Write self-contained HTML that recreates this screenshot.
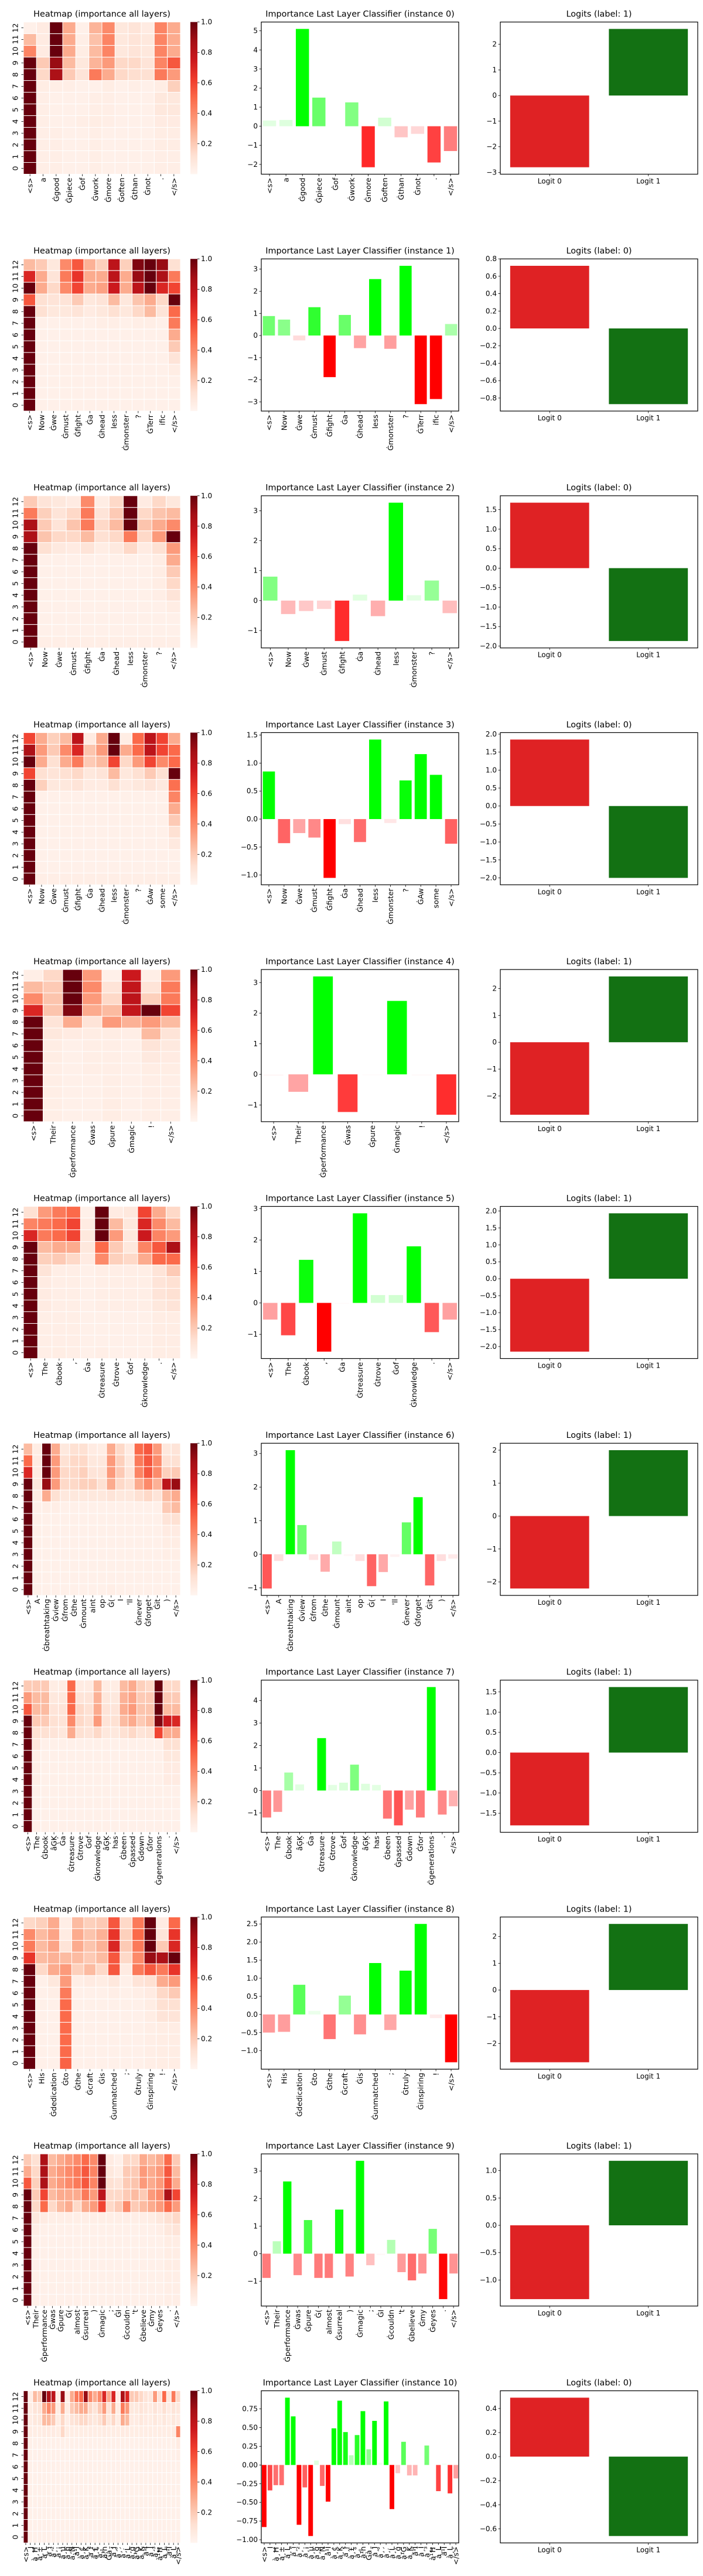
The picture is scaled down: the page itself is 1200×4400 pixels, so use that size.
<!DOCTYPE html>
<html><head><meta charset="utf-8">
<style>
html,body{margin:0;padding:0;background:#fff;}
svg{display:block;}
text{font-family:"DejaVu Sans","Liberation Sans",sans-serif;fill:#000;}
</style></head>
<body>
<svg id="fig" width="1200" height="4400" viewBox="0 0 1200 4400" xmlns="http://www.w3.org/2000/svg"></svg>
<script>
// ---------------- DATA ----------------
const t0=["<s>","a","Ġgood","Ġpiece","Ġof","Ġwork","Ġmore","Ġoften","Ġthan","Ġnot",".","</s>"];
const t1=["<s>","Now","Ġwe","Ġmust","Ġfight","Ġa","Ġhead","less","Ġmonster","?","ĠTerr","ific","</s>"];
const t2=["<s>","Now","Ġwe","Ġmust","Ġfight","Ġa","Ġhead","less","Ġmonster","?","</s>"];
const t3=["<s>","Now","Ġwe","Ġmust","Ġfight","Ġa","Ġhead","less","Ġmonster","?","ĠAw","some","</s>"];
const t4=["<s>","Their","Ġperformance","Ġwas","Ġpure","Ġmagic","!","</s>"];
const t5=["<s>","The","Ġbook",",","Ġa","Ġtreasure","Ġtrove","Ġof","Ġknowledge",".","</s>"];
const t6=["<s>","A","Ġbreathtaking","Ġview","Ġfrom","Ġthe","Ġmount","aint","op","Ġ(","I","'ll","Ġnever","Ġforget","Ġit",")","</s>"];
const t7=["<s>","The","Ġbook","âĢĶ","Ġa","Ġtreasure","Ġtrove","Ġof","Ġknowledge","âĢĶ","has","Ġbeen","Ġpassed","Ġdown","Ġfor","Ġgenerations",".","</s>"];
const t8=["<s>","His","Ġdedication","Ġto","Ġthe","Ġcraft","Ġis","Ġunmatched",";","Ġtruly","Ġinspiring","!","</s>"];
const t9=["<s>","Their","Ġperformance","Ġwas","Ġpure","Ġ(","almost","Ġsurreal",")","Ġmagic",";","ĠI","Ġcouldn","'t","Ġbelieve","Ġmy","Ġeyes",".","</s>"];
const t10=["<s>","I","à¸Ħ","à¸±","à¸Ļ","à¸ĩ","à¸²","à¸¡","à¸µ","à¸ģ","à¸Ń","à¹Ī","à¸¢","à¸Ķ","à¸ŀ","à¸£","à¸°","à¹ĥ","Ġà¸","à¸Ī","à¸°","à¸´","à¸Ĺ","à¸ģ","à¹Ģ","à¸Ķ","à¹Ĩ","à¸Ī","à¸³","à¹Ħ","à¸Ĺ","à¹Ī","à¸Ļ","</s>"];

const b0=[0.3,0.33,5.1,1.5,0,1.25,-2.15,0.45,-0.58,-0.4,-1.9,-1.3];
const b1=[0.88,0.72,-0.22,1.28,-1.88,0.93,-0.57,2.55,-0.6,3.15,-3.1,-2.87,0.52];
const b2=[0.8,-0.45,-0.35,-0.28,-1.35,0.2,-0.52,3.27,0.18,0.67,-0.42];
const b3=[0.85,-0.43,-0.25,-0.33,-1.05,-0.09,-0.41,1.42,-0.07,0.69,1.16,0.79,-0.44];
const b4=[-0.05,-0.57,3.2,-1.23,-0.03,2.4,-0.04,-1.32];
const b5=[-0.53,-1.03,1.37,-1.55,-0.03,2.85,0.25,0.25,1.8,-0.93,-0.53];
const b6=[-1.02,-0.2,3.1,0.87,-0.17,-0.52,0.38,-0.05,-0.2,-0.95,-0.53,-0.08,0.95,1.7,-0.93,-0.2,-0.13];
const b7=[-1.2,-0.95,0.8,0.27,0.02,2.33,0.25,0.35,1.15,0.3,0.25,-1.25,-1.55,-0.85,-1.2,4.6,-1.07,-0.7];
const b8=[-0.5,-0.48,0.82,0.1,-0.68,0.52,-0.55,1.42,-0.43,1.21,2.5,-0.1,-1.32];
const b9=[-0.88,0.45,2.62,-0.78,1.22,-0.88,-0.88,1.6,-0.83,3.37,-0.42,-0.05,0.5,-0.67,-0.97,-0.72,0.9,-1.65,-0.72];
const b10=[-0.83,-0.34,-0.27,-0.27,0.9,0.65,-0.8,-0.3,-0.95,0.06,-0.28,-0.49,0.49,0.86,0.44,0.13,0.4,0.72,0.21,0.59,0.03,0.85,-0.59,-0.11,0.31,-0.14,-0.14,0.0,0.26,0.0,-0.35,0.02,-0.38,-0.18];

const g0=[-2.8,2.6], g1=[0.72,-0.87], g2=[1.68,-1.87], g3=[1.85,-2.0], g4=[-2.7,2.45], g5=[-2.15,1.93];
const g6=[-2.2,2.0], g7=[-1.8,1.62], g8=[-2.7,2.47], g9=[-1.35,1.18], g10=[0.49,-0.66];
const logitLabels=["Logit 0","Logit 1"];
const labelVals=[1,0,0,0,1,1,1,1,1,1,0];

const bt0=["−2","−1","0","1","2","3","4","5"];
const bt1=["−3","−2","−1","0","1","2","3"];
const bt2=["−1","0","1","2","3"];
const bt3=["−1.0","−0.5","0.0","0.5","1.0","1.5"];
const bt4=["−1","0","1","2","3"];
const bt5=["−1","0","1","2","3"];
const bt6=["−1","0","1","2","3"];
const bt7=["−1","0","1","2","3","4"];
const bt8=["−1.0","−0.5","0.0","0.5","1.0","1.5","2.0","2.5"];
const bt9=["−1","0","1","2","3"];
const bt10=["−1.00","−0.75","−0.50","−0.25","0.00","0.25","0.50","0.75"];

const lt0=["−3","−2","−1","0","1","2"];
const lt1=["−0.8","−0.6","−0.4","−0.2","0.0","0.2","0.4","0.6","0.8"];
const lt2=["−2.0","−1.5","−1.0","−0.5","0.0","0.5","1.0","1.5"];
const lt3=["−2.0","−1.5","−1.0","−0.5","0.0","0.5","1.0","1.5","2.0"];
const lt4=["−2","−1","0","1","2"];
const lt5=["−2.0","−1.5","−1.0","−0.5","0.0","0.5","1.0","1.5","2.0"];
const lt6=["−2","−1","0","1","2"];
const lt7=["−1.5","−1.0","−0.5","0.0","0.5","1.0","1.5"];
const lt8=["−2","−1","0","1","2"];
const lt9=["−1.0","−0.5","0.0","0.5","1.0"];
const lt10=["−0.6","−0.4","−0.2","0.0","0.2","0.4"];

const cbTicks=["0.2","0.4","0.6","0.8","1.0"];
const layerLabels=["12","11","10","9","8","7","6","5","4","3","2","1","0"];

// heatmaps: rows from layer 12 (top) down to layer 0 (bottom)
const h0=[
[.03,.06,1,.3,.03,.27,.4,.08,.1,.06,.42,.3],
[.25,.06,1,.3,.04,.23,.42,.08,.1,.08,.42,.3],
[.42,.06,1,.3,.05,.25,.42,.08,.1,.08,.42,.3],
[1,.2,.9,.25,.08,.27,.35,.15,.15,.1,.42,.55],
[1,.15,.85,.2,.1,.45,.3,.15,.13,.12,.45,.35],
[1,.05,.04,.04,.03,.03,.05,.03,.04,.03,.05,.18],
[1,.04,.03,.03,.03,.04,.04,.03,.03,.03,.08,.08],
[1,.04,.03,.03,.03,.04,.04,.03,.03,.03,.08,.08],
[1,.04,.03,.03,.04,.05,.04,.03,.03,.03,.06,.06],
[1,.04,.04,.03,.03,.04,.03,.03,.03,.03,.05,.05],
[1,.04,.04,.03,.03,.04,.03,.03,.03,.03,.05,.05],
[1,.04,.04,.03,.03,.04,.03,.03,.03,.03,.04,.04],
[1,.04,.04,.03,.03,.04,.03,.03,.03,.03,.04,.04]];
const h1=[
[.25,.2,.08,.4,.55,.28,.18,.8,.18,.95,1,.9,.12],
[.7,.3,.1,.45,.65,.3,.3,.8,.3,.9,1,.85,.45],
[1,.3,.15,.4,.6,.3,.33,.75,.3,.8,1,.7,.6],
[.55,.12,.1,.1,.2,.08,.1,.25,.08,.22,.3,.15,1],
[1,.12,.08,.08,.1,.06,.08,.12,.08,.15,.25,.1,.5],
[1,.03,.03,.03,.03,.03,.04,.04,.03,.04,.04,.03,.45],
[1,.03,.03,.03,.03,.03,.03,.03,.03,.03,.03,.03,.3],
[1,.03,.03,.03,.03,.03,.03,.03,.03,.03,.03,.03,.2],
[1,.03,.03,.03,.03,.03,.03,.03,.03,.03,.03,.03,.1],
[1,.03,.03,.03,.03,.03,.03,.03,.03,.03,.03,.03,.05],
[1,.03,.03,.03,.03,.03,.03,.03,.03,.03,.03,.03,.03],
[1,.03,.03,.03,.03,.03,.03,.03,.03,.03,.03,.03,.03],
[1,.03,.03,.03,.03,.03,.03,.03,.03,.03,.03,.03,.03]];
const h2=[
[.2,.1,.08,.06,.4,.05,.15,1,.06,.15,.08],
[.45,.18,.1,.15,.45,.1,.2,1,.15,.22,.25],
[.85,.2,.1,.22,.45,.15,.25,1,.22,.3,.4],
[.85,.22,.15,.15,.25,.12,.15,.45,.15,.35,1],
[1,.12,.07,.06,.1,.05,.07,.15,.06,.12,.35],
[1,.03,.03,.03,.03,.03,.03,.03,.03,.05,.3],
[1,.03,.03,.03,.03,.03,.03,.03,.03,.05,.2],
[1,.03,.03,.03,.03,.03,.03,.03,.03,.05,.15],
[1,.03,.03,.03,.03,.03,.03,.03,.03,.04,.1],
[1,.03,.03,.03,.03,.03,.03,.03,.03,.03,.05],
[1,.03,.03,.03,.03,.03,.03,.03,.03,.03,.03],
[1,.03,.03,.03,.03,.03,.03,.03,.03,.03,.03],
[1,.04,.04,.04,.04,.04,.04,.04,.04,.04,.04]];
const h3=[
[.6,.3,.18,.25,.8,.06,.3,1,.05,.5,.8,.6,.3],
[.85,.35,.2,.4,.7,.22,.35,1,.3,.5,.8,.6,.5],
[1,.3,.12,.3,.45,.2,.25,.6,.15,.35,.6,.4,.5],
[.6,.12,.1,.12,.15,.08,.1,.25,.08,.12,.2,.12,1],
[1,.18,.08,.08,.1,.06,.06,.12,.06,.08,.1,.07,.48],
[1,.03,.03,.03,.03,.03,.03,.03,.03,.03,.03,.03,.42],
[1,.03,.03,.03,.03,.03,.03,.03,.03,.03,.03,.03,.3],
[1,.03,.03,.03,.03,.03,.03,.03,.03,.03,.03,.03,.2],
[1,.03,.03,.03,.03,.03,.03,.03,.03,.03,.03,.03,.12],
[1,.03,.03,.03,.03,.03,.03,.03,.03,.03,.03,.03,.07],
[1,.03,.03,.03,.03,.03,.03,.03,.03,.03,.03,.03,.03],
[1,.03,.03,.03,.03,.03,.03,.03,.03,.03,.03,.03,.03],
[1,.04,.04,.04,.04,.04,.04,.04,.04,.04,.04,.04,.04]];
const h4=[
[.04,.15,1,.35,.03,.75,.04,.35],
[.25,.2,1,.4,.1,.78,.1,.45],
[.4,.22,1,.35,.15,.8,.18,.45],
[.7,.22,.95,.3,.25,.78,1,.6],
[1,.1,.3,.1,.35,.28,.35,.25],
[1,.08,.06,.05,.05,.04,.25,.1],
[1,.05,.03,.04,.04,.03,.1,.07],
[1,.05,.03,.04,.04,.03,.07,.06],
[1,.04,.03,.04,.04,.03,.05,.05],
[1,.04,.03,.03,.04,.03,.04,.04],
[1,.04,.03,.03,.04,.03,.04,.04],
[1,.04,.03,.03,.05,.03,.04,.04],
[1,.04,.03,.03,.05,.03,.04,.04]];
const h5=[
[.12,.35,.45,.5,.03,1,.06,.08,.6,.3,.15],
[.42,.45,.5,.6,.06,1,.25,.08,.7,.4,.25],
[.7,.45,.5,.6,.08,1,.35,.08,.75,.42,.35],
[1,.25,.3,.3,.08,.5,.2,.08,.42,.55,.85],
[1,.18,.2,.15,.06,.4,.18,.15,.3,.5,.5],
[1,.1,.04,.04,.03,.04,.04,.04,.04,.1,.2],
[1,.06,.04,.04,.03,.04,.04,.04,.04,.1,.12],
[1,.06,.04,.04,.03,.04,.04,.04,.04,.1,.12],
[1,.06,.04,.04,.03,.04,.04,.04,.04,.08,.1],
[1,.04,.04,.04,.03,.03,.03,.03,.03,.05,.05],
[1,.04,.04,.04,.03,.03,.03,.03,.03,.05,.05],
[1,.04,.04,.04,.03,.03,.03,.03,.03,.05,.05],
[1,.04,.05,.04,.03,.04,.03,.03,.03,.05,.05]];
const h6=[
[.25,.05,1,.3,.08,.12,.12,.06,.05,.3,.15,.06,.5,.55,.35,.08,.1],
[.5,.06,1,.35,.12,.15,.15,.08,.08,.35,.18,.08,.45,.55,.4,.12,.12],
[.7,.06,1,.35,.15,.15,.18,.1,.1,.35,.2,.1,.42,.55,.4,.18,.2],
[1,.08,.9,.35,.15,.15,.18,.18,.12,.3,.15,.12,.3,.4,.28,.8,.9],
[1,.05,.3,.12,.08,.08,.08,.08,.08,.1,.08,.08,.12,.15,.1,.25,.3],
[1,.03,.04,.04,.03,.03,.03,.03,.03,.03,.03,.03,.03,.03,.03,.2,.25],
[1,.03,.03,.03,.03,.03,.03,.03,.03,.03,.03,.03,.03,.03,.03,.1,.12],
[1,.03,.03,.03,.03,.03,.03,.03,.03,.03,.03,.03,.03,.03,.03,.06,.06],
[1,.03,.03,.03,.03,.03,.03,.03,.03,.03,.03,.03,.03,.03,.03,.05,.05],
[1,.03,.03,.03,.03,.03,.03,.03,.03,.03,.03,.03,.03,.03,.03,.04,.04],
[1,.03,.03,.03,.03,.03,.03,.03,.03,.03,.03,.03,.03,.03,.03,.03,.03],
[1,.03,.03,.03,.03,.03,.03,.03,.03,.03,.03,.03,.03,.03,.03,.03,.03],
[1,.03,.03,.03,.03,.03,.03,.03,.03,.04,.03,.03,.03,.03,.03,.03,.03]];
const h7=[
[.2,.2,.2,.05,.05,.5,.06,.06,.25,.05,.05,.25,.3,.18,.15,1,.15,.15],
[.35,.25,.25,.08,.08,.5,.1,.1,.28,.08,.08,.28,.32,.2,.2,1,.2,.2],
[.55,.25,.25,.1,.1,.5,.15,.12,.3,.1,.1,.3,.35,.22,.22,1,.25,.25],
[1,.2,.2,.12,.1,.4,.15,.12,.35,.1,.12,.25,.3,.2,.25,.95,.75,.7],
[1,.12,.12,.1,.08,.3,.12,.1,.15,.08,.08,.12,.15,.1,.12,.6,.3,.3],
[1,.08,.03,.03,.03,.03,.03,.03,.03,.03,.03,.03,.03,.03,.03,.03,.12,.12],
[1,.04,.03,.03,.03,.03,.03,.03,.03,.03,.03,.03,.03,.03,.03,.03,.08,.08],
[1,.04,.03,.03,.03,.03,.03,.03,.03,.03,.03,.03,.03,.03,.03,.03,.06,.06],
[1,.04,.03,.03,.03,.03,.03,.03,.03,.03,.03,.03,.03,.03,.03,.03,.06,.06],
[1,.03,.03,.03,.03,.03,.03,.03,.03,.03,.03,.03,.03,.03,.03,.03,.03,.03],
[1,.03,.03,.03,.03,.03,.03,.03,.03,.03,.03,.03,.03,.03,.03,.03,.03,.03],
[1,.03,.03,.03,.03,.03,.03,.03,.03,.03,.03,.03,.03,.03,.03,.03,.03,.03],
[1,.03,.03,.03,.03,.03,.03,.03,.03,.03,.03,.03,.03,.03,.03,.03,.03,.03]];
const h8=[
[.15,.18,.3,.04,.25,.18,.2,.55,.15,.45,1,.06,.5],
[.4,.25,.32,.06,.3,.22,.28,.65,.18,.5,1,.1,.65],
[.45,.25,.32,.1,.3,.22,.28,.7,.2,.45,1,.2,.7],
[.65,.25,.28,.25,.25,.2,.25,.55,.15,.4,.9,.85,1],
[1,.15,.3,.35,.18,.25,.15,.55,.06,.45,.55,.45,.65],
[1,.03,.08,.35,.04,.06,.05,.08,.03,.1,.12,.3,.35],
[1,.03,.04,.45,.03,.03,.03,.04,.03,.04,.06,.15,.2],
[1,.03,.03,.5,.03,.03,.03,.03,.03,.03,.05,.12,.12],
[1,.03,.03,.5,.03,.03,.03,.03,.03,.03,.05,.1,.1],
[1,.03,.03,.5,.03,.03,.03,.03,.03,.03,.04,.05,.05],
[1,.03,.03,.5,.03,.03,.03,.03,.03,.03,.04,.05,.05],
[1,.03,.03,.5,.03,.03,.03,.03,.03,.03,.04,.05,.05],
[1,.03,.03,.52,.03,.03,.03,.03,.03,.03,.04,.05,.05]];
const h9=[
[.2,.12,.85,.25,.3,.35,.4,.5,.4,1,.06,.03,.15,.15,.3,.25,.3,.5,.2],
[.3,.15,.85,.3,.35,.4,.45,.55,.42,1,.08,.05,.2,.2,.35,.3,.35,.55,.25],
[.55,.18,.85,.3,.35,.4,.45,.55,.42,1,.12,.1,.2,.22,.35,.3,.35,.55,.3],
[1,.2,.6,.25,.3,.3,.3,.45,.35,.8,.15,.15,.2,.25,.2,.35,.4,.85,.6],
[1,.15,.5,.15,.25,.3,.15,.3,.35,.6,.15,.2,.4,.2,.25,.3,.35,.5,.35],
[1,.08,.06,.04,.04,.04,.04,.04,.04,.04,.04,.04,.04,.04,.04,.05,.08,.12,.15],
[1,.04,.03,.03,.03,.03,.03,.03,.03,.03,.03,.03,.03,.03,.03,.03,.04,.08,.1],
[1,.03,.03,.03,.03,.03,.03,.03,.03,.03,.03,.03,.03,.03,.03,.03,.03,.05,.05],
[1,.03,.03,.03,.03,.03,.03,.03,.03,.03,.03,.03,.03,.03,.03,.03,.03,.05,.05],
[1,.03,.03,.03,.03,.03,.03,.03,.03,.03,.03,.03,.03,.03,.03,.03,.03,.05,.05],
[1,.03,.03,.03,.03,.03,.03,.03,.03,.03,.03,.03,.03,.03,.03,.03,.03,.04,.04],
[1,.03,.03,.03,.03,.03,.03,.03,.03,.03,.03,.03,.03,.03,.03,.03,.03,.04,.04],
[1,.03,.03,.03,.03,.03,.03,.03,.03,.03,.03,.03,.03,.03,.03,.03,.03,.04,.04]];
const h10=[
[1,.04,.25,.2,1,.85,.8,.04,.9,.04,.3,.45,.5,.9,.4,.3,.4,.7,.3,.7,.04,.85,.7,.2,.2,.15,.1,.08,.35,.1,.5,.08,.45,.15],
[1,.05,.1,.1,.3,.4,.35,.05,.3,.05,.2,.25,.3,.3,.15,.1,.2,.35,.1,.3,.05,.45,.35,.08,.08,.1,.08,.06,.1,.06,.12,.06,.1,.08],
[1,.05,.08,.08,.25,.25,.2,.05,.15,.04,.1,.12,.15,.15,.1,.08,.12,.2,.08,.15,.05,.3,.25,.06,.06,.08,.06,.05,.08,.05,.08,.05,.08,.06],
[1,.05,.05,.05,.06,.06,.06,.05,.15,.05,.05,.05,.05,.05,.05,.05,.05,.06,.05,.05,.05,.06,.06,.05,.05,.05,.05,.05,.05,.05,.05,.05,.06,.42],
[1,.03,.03,.03,.03,.03,.03,.03,.03,.03,.03,.03,.03,.03,.03,.03,.03,.03,.03,.03,.03,.03,.03,.03,.03,.03,.03,.03,.03,.03,.03,.03,.03,.06],
[1,.03,.03,.03,.03,.03,.03,.03,.03,.03,.03,.03,.03,.03,.03,.03,.03,.03,.03,.03,.03,.03,.03,.03,.03,.03,.03,.03,.03,.03,.03,.03,.03,.04],
[1,.03,.03,.03,.03,.03,.03,.03,.03,.03,.03,.03,.03,.03,.03,.03,.03,.03,.03,.03,.03,.03,.03,.03,.03,.03,.03,.03,.03,.03,.03,.03,.03,.03],
[1,.03,.03,.03,.03,.03,.03,.03,.03,.03,.03,.03,.03,.03,.03,.03,.03,.03,.03,.03,.03,.03,.03,.03,.03,.03,.03,.03,.03,.03,.03,.03,.03,.03],
[1,.03,.03,.03,.03,.03,.03,.03,.03,.03,.03,.03,.03,.03,.03,.03,.03,.03,.03,.03,.03,.03,.03,.03,.03,.03,.03,.03,.03,.03,.03,.03,.03,.03],
[1,.03,.03,.03,.03,.03,.03,.03,.03,.03,.03,.03,.03,.03,.03,.03,.03,.03,.03,.03,.03,.03,.03,.03,.03,.03,.03,.03,.03,.03,.03,.03,.03,.03],
[1,.03,.03,.03,.03,.03,.03,.03,.03,.03,.03,.03,.03,.03,.03,.03,.03,.03,.03,.03,.03,.03,.03,.03,.03,.03,.03,.03,.03,.03,.03,.03,.03,.03],
[1,.03,.03,.03,.03,.03,.03,.03,.03,.03,.03,.03,.03,.03,.03,.03,.03,.03,.03,.03,.03,.03,.03,.03,.03,.03,.03,.03,.03,.03,.03,.03,.03,.03],
[1,.03,.03,.03,.03,.03,.03,.03,.03,.03,.03,.03,.03,.03,.03,.03,.03,.03,.03,.03,.03,.03,.03,.03,.03,.03,.03,.03,.03,.03,.03,.03,.03,.03]];

const tokenSets=[t0,t1,t2,t3,t4,t5,t6,t7,t8,t9,t10];
const barSets=[b0,b1,b2,b3,b4,b5,b6,b7,b8,b9,b10];
const logitSets=[g0,g1,g2,g3,g4,g5,g6,g7,g8,g9,g10];
const barTickSets=[bt0,bt1,bt2,bt3,bt4,bt5,bt6,bt7,bt8,bt9,bt10];
const logitTickSets=[lt0,lt1,lt2,lt3,lt4,lt5,lt6,lt7,lt8,lt9,lt10];
const heatSets=[h0,h1,h2,h3,h4,h5,h6,h7,h8,h9,h10];

// ---------------- RENDER ----------------
const NS="http://www.w3.org/2000/svg";
const svg=document.getElementById('fig');
const ROW=404.6, TOP=37.6, BOT=297.5;
const HM={x0:40,x1:308}, CB={x0:325,x1:337}, BA={x0:446,x1:783}, LG={x0:854,x1:1191};
const TITLE_Y=28.5;

function el(tag,attrs,parent){const e=document.createElementNS(NS,tag);for(const k in attrs)e.setAttribute(k,attrs[k]);if(parent)parent.appendChild(e);return e;}
function num(s){return parseFloat(String(s).replace('−','-'));}
const REDS=[[255,245,240],[254,224,210],[252,187,161],[252,146,114],[251,106,74],[239,59,44],[203,24,29],[165,15,21],[103,0,13]];
function reds(v){v=Math.max(0,Math.min(1,v));const p=v*8,i=Math.min(7,Math.floor(p)),f=p-i;const a=REDS[i],b=REDS[i+1];
  return 'rgb('+a.map((c,j)=>Math.round(c+(b[j]-c)*f)).join(',')+')';}
function autoLim(vals){let lo=Math.min(0,...vals),hi=Math.max(0,...vals);const s=hi-lo;return [lo-0.05*s,hi+0.05*s];}

const defs=el('defs',{},svg);
const grad=el('linearGradient',{id:'cbgrad',x1:'0',y1:'1',x2:'0',y2:'0'},defs);
for(let i=0;i<=8;i++){el('stop',{offset:(i/8),'stop-color':'rgb('+REDS[i].join(',')+')'},grad);}

for(let k=0;k<11;k++){
  const oy=k*ROW;
  const cp=el('clipPath',{id:'clip'+k},defs);
  el('rect',{x:0,y:0,width:1200,height:ROW+1},cp);
  const g=el('g',{transform:'translate(0,'+oy.toFixed(2)+')','clip-path':'url(#clip'+k+')'},svg);
  
  

  const toks=tokenSets[k], n=toks.length;

  // ===== Heatmap =====
  const hg=el('g',{},g);
  
  
  const ht=el('text',{x:(HM.x0+HM.x1)/2,y:TITLE_Y,'text-anchor':'middle','font-size':'14.4'},hg);
  ht.textContent='Heatmap (importance all layers)';
  
  
  const H=heatSets[k], nr=H.length;
  const cw=(HM.x1-HM.x0)/n, ch=(BOT-TOP)/nr;
  for(let r=0;r<nr;r++){
    for(let c=0;c<n;c++){
      const rc=el('rect',{x:HM.x0+c*cw,y:TOP+r*ch,width:cw,height:ch,fill:reds(H[r][c]),stroke:'#fff','stroke-width':1},hg);
      
      
    }
    const yc=TOP+(r+0.5)*ch;
    el('line',{x1:HM.x0-3.5,x2:HM.x0,y1:yc,y2:yc,stroke:'#000','stroke-width':0.8},hg);
    const yl=el('text',{transform:'translate(26,'+yc+') rotate(-90)','text-anchor':'middle','dominant-baseline':'central','font-size':'12.5'},hg);
    yl.textContent=layerLabels[r];
    
    
  }
  for(let c=0;c<n;c++){
    const xc=HM.x0+(c+0.5)*cw;
    el('line',{x1:xc,x2:xc,y1:BOT,y2:BOT+3.5,stroke:'#000','stroke-width':0.8},hg);
    const xl=el('text',{transform:'translate('+xc+','+(BOT+6)+') rotate(-90)','text-anchor':'end','dominant-baseline':'central','font-size':'12.5'},hg);
    xl.textContent=toks[c];
    
    
  }
  // colorbar
  const cb=el('rect',{x:CB.x0,y:TOP,width:CB.x1-CB.x0,height:BOT-TOP,fill:'url(#cbgrad)'},hg);
  
  
  cbTicks.forEach(s=>{
    const v=num(s), y=BOT-(BOT-TOP)*v;
    el('line',{x1:CB.x1,x2:CB.x1+3.5,y1:y,y2:y,stroke:'#000','stroke-width':0.8},hg);
    const tl=el('text',{x:CB.x1+6,y:y,'dominant-baseline':'central','font-size':'12'},hg);
    tl.textContent=s;
    
    
  });

  // ===== Importance bar chart =====
  const bg=el('g',{},g);
  
  
  const bt=el('text',{x:(BA.x0+BA.x1)/2,y:TITLE_Y,'text-anchor':'middle','font-size':'14.4'},bg);
  bt.textContent='Importance Last Layer Classifier (instance '+k+')';
  
  
  const vals=barSets[k];
  const [ylo,yhi]=autoLim(vals);
  const sy=v=>BOT-(v-ylo)/(yhi-ylo)*(BOT-TOP);
  const sx=x=>BA.x0+(x+0.5)/n*(BA.x1-BA.x0);
  const maxAbs=Math.max(...vals.map(Math.abs));
  vals.forEach((v,i)=>{
    const a=Math.min(1,Math.abs(v)/(0.5*maxAbs));
    const x0=sx(i-0.4), x1=sx(i+0.4), y0=sy(Math.max(0,v)), y1=sy(Math.min(0,v));
    const col=v>=0?'rgb(0,255,0)':'rgb(255,0,0)';
    const rb=el('rect',{x:x0,y:y0,width:x1-x0,height:Math.max(0.01,y1-y0),fill:col,'fill-opacity':a.toFixed(3)},bg);
    
    
  });
  el('rect',{x:BA.x0,y:TOP,width:BA.x1-BA.x0,height:BOT-TOP,fill:'none',stroke:'#000','stroke-width':1.2},bg);
  barTickSets[k].forEach(s=>{
    const y=sy(num(s));
    el('line',{x1:BA.x0-3.5,x2:BA.x0,y1:y,y2:y,stroke:'#000','stroke-width':0.8},bg);
    const tl=el('text',{x:BA.x0-6,y:y,'text-anchor':'end','dominant-baseline':'central','font-size':'12'},bg);
    tl.textContent=s;
    
    
  });
  toks.forEach((tk,i)=>{
    const xc=sx(i);
    el('line',{x1:xc,x2:xc,y1:BOT,y2:BOT+3.5,stroke:'#000','stroke-width':0.8},bg);
    const xl=el('text',{transform:'translate('+xc+','+(BOT+6)+') rotate(-90)','text-anchor':'end','dominant-baseline':'central','font-size':'12.5'},bg);
    xl.textContent=tk;
    
    
  });

  // ===== Logits =====
  const lg=el('g',{},g);
  
  
  const lt=el('text',{x:(LG.x0+LG.x1)/2,y:TITLE_Y,'text-anchor':'middle','font-size':'14.4'},lg);
  lt.textContent='Logits (label: '+labelVals[k]+')';
  
  
  const lv=logitSets[k];
  const [llo,lhi]=autoLim(lv);
  const ly=v=>BOT-(v-llo)/(lhi-llo)*(BOT-TOP);
  const lx=x=>LG.x0+(x+0.5)/2*(LG.x1-LG.x0);
  const lcols=['#df2224','#137113'];
  lv.forEach((v,i)=>{
    const x0=lx(i-0.4), x1=lx(i+0.4), y0=ly(Math.max(0,v)), y1=ly(Math.min(0,v));
    const rb=el('rect',{x:x0,y:y0,width:x1-x0,height:y1-y0,fill:lcols[i]},lg);
    
    
    el('line',{x1:lx(i),x2:lx(i),y1:BOT,y2:BOT+3.5,stroke:'#000','stroke-width':0.8},lg);
    const xl=el('text',{x:lx(i),y:BOT+16,'text-anchor':'middle','font-size':'12'},lg);
    xl.textContent=logitLabels[i];
    
    
  });
  el('rect',{x:LG.x0,y:TOP,width:LG.x1-LG.x0,height:BOT-TOP,fill:'none',stroke:'#000','stroke-width':1.2},lg);
  logitTickSets[k].forEach(s=>{
    const y=ly(num(s));
    el('line',{x1:LG.x0-3.5,x2:LG.x0,y1:y,y2:y,stroke:'#000','stroke-width':0.8},lg);
    const tl=el('text',{x:LG.x0-6,y:y,'text-anchor':'end','dominant-baseline':'central','font-size':'12'},lg);
    tl.textContent=s;
    
    
  });
}
</script>
</body></html>
